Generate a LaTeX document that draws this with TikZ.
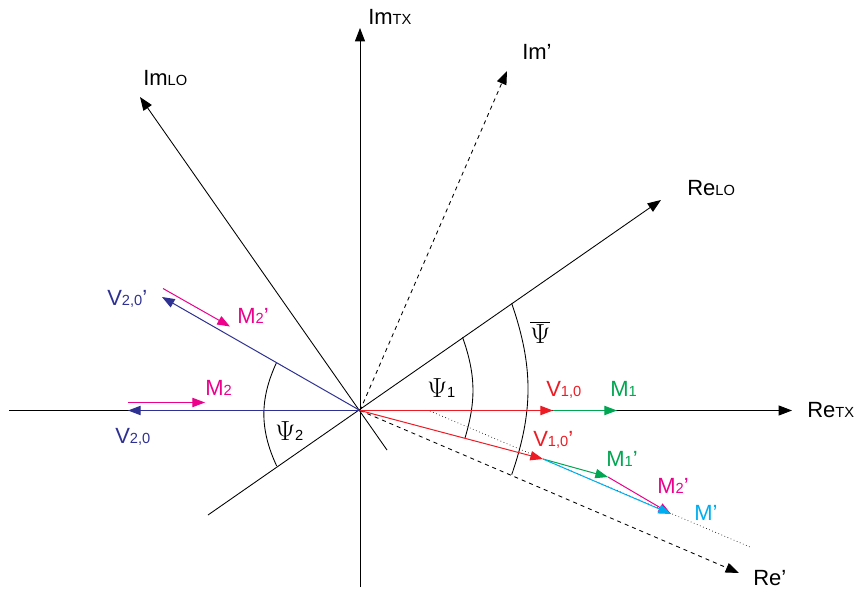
\documentclass[tikz,border=0pt]{standalone}
\usepackage{fontspec}
\setmainfont{Liberation Sans}
\usetikzlibrary{arrows.meta}
\definecolor{vred}{HTML}{ED1C24}
\definecolor{vgreen}{HTML}{00A651}
\definecolor{vmag}{HTML}{EC008C}
\definecolor{vcyan}{HTML}{00AEEF}
\definecolor{vnavy}{HTML}{2E3192}
\newcommand{\lowtxt}[2]{#1{\fontsize{11}{12}\selectfont #2}}
\tikzset{
  axis/.style={-{Triangle[length=10pt,width=7.5pt]}, line width=0.65pt},
  guide/.style={axis, dashed},
  vec/.style={-{Triangle[length=9.5pt,width=7pt]}, line width=0.75pt},
  angarc/.style={line width=0.65pt},
  lbl/.style={anchor=base west, inner sep=0pt, font=\fontsize{16.5}{18}\selectfont},
  anglbl/.style={anchor=base west, inner sep=0pt, font=\fontsize{20}{22}\selectfont}
}
\begin{document}
\begin{tikzpicture}[x=0.75pt, y=-0.75pt]
    \useasboundingbox (0,0) rectangle (858,589);
    \coordinate (O) at (360,410.5);

    % axes
    \coordinate (retxL) at (9,410.5);
    \coordinate (retx) at (792,410.5);
    \coordinate (imtxB) at (360,587);
    \coordinate (imtx) at (360,28);
    \coordinate (reloL) at (208,515);
    \coordinate (relo) at (661,200);
    \coordinate (imloB) at (387,450);
    \coordinate (imlo) at (140,97);
    \coordinate (imp) at (507,71);
    \coordinate (rep) at (739,573);
    \coordinate (dotA) at (430,411);
    \coordinate (dotB) at (750,547);

    \draw[axis] (retxL) -- (retx);
    \draw[axis] (imtxB) -- (imtx);
    \draw[axis] (reloL) -- (relo);
    \draw[axis] (imloB) -- (imlo);
    \draw[guide] (O) -- (imp);
    \draw[guide] (O) -- (rep);
    \draw[dotted, line width=0.5pt] (dotA) -- (dotB);

    \node[lbl] (retxlab) at (807,417) {\lowtxt{Re}{TX}};
    \node[lbl] (imtxlab) at (368,24) {\lowtxt{Im}{TX}};
    \node[lbl] (relolab) at (687,195) {\lowtxt{Re}{LO}};
    \node[lbl] (imlolab) at (143,85) {\lowtxt{Im}{LO}};
    \node[lbl] (implab) at (522,60) {Im’};
    \node[lbl] (replab) at (753,585) {Re’};

    % angles
    \coordinate (a1) at (462.6,337.3);
    \coordinate (a1b) at (465,438);
    \coordinate (a2) at (276.7,362.2);
    \coordinate (a2b) at (276.7,466);
    \coordinate (am) at (511.7,303.3);
    \coordinate (amb) at (511.7,474.7);
    \draw[angarc] (a1) to[bend left=18] (a1b);
    \draw[angarc] (a2) to[bend right=25] (a2b);
    \draw[angarc] (am) to[bend left=19] (amb);
    \node[anglbl] (psi1) at (427,397) {$\Psi$\lowtxt{}{1}};
    \node[anglbl] (psi2) at (275,440) {$\Psi$\lowtxt{}{2}};
    \node[anglbl] (psim) at (530,343) {$\overline{\Psi}$};

    % vectors, first carrier
    \coordinate (v10) at (553,410.5);
    \coordinate (m1) at (617,410.5);
    \coordinate (v10p) at (543,459);
    \coordinate (m1p) at (608,477);
    \coordinate (m2p) at (671,514);
    \draw[vec, vred] (O) -- (v10);
    \draw[vec, vgreen] (v10) -- (m1);
    \draw[vec, vred] (O) -- (v10p);
    \draw[vec, vgreen] (v10p) -- (m1p);
    \draw[vec, vmag] (m1p) -- (m2p);
    \draw[vec, vcyan] (v10p) -- (m2p);

    \node[lbl, text=vred] (v10lab) at (546,396) {\lowtxt{V}{1,0}};
    \node[lbl, text=vgreen] (m1lab) at (610,396) {\lowtxt{M}{1}};
    \node[lbl, text=vred] (v10plab) at (533,446) {\lowtxt{V}{1,0}’};
    \node[lbl, text=vgreen] (m1plab) at (606,466) {\lowtxt{M}{1}’};
    \node[lbl, text=vmag] (m2plab) at (657,493) {\lowtxt{M}{2}’};
    \node[lbl, text=vcyan] (mplab) at (694,520) {M’};

    % vectors, second carrier
    \coordinate (v20) at (128,410.5);
    \coordinate (m2s) at (128,402.5);
    \coordinate (m2) at (205,402.5);
    \coordinate (v20p) at (162,297);
    \coordinate (m2ps) at (163,288.5);
    \coordinate (m2pe) at (230,326.5);
    \draw[vec, vnavy] (O) -- (v20);
    \draw[vec, vmag] (m2s) -- (m2);
    \draw[vec, vnavy] (O) -- (v20p);
    \draw[vec, vmag] (m2ps) -- (m2pe);

    \node[lbl, text=vnavy] (v20lab) at (115,443) {\lowtxt{V}{2,0}};
    \node[lbl, text=vmag] (m2lab) at (205,395) {\lowtxt{M}{2}};
    \node[lbl, text=vnavy] (v20plab) at (107,305) {\lowtxt{V}{2,0}’};
    \node[lbl, text=vmag] (m2pllab) at (237,323) {\lowtxt{M}{2}’};
\end{tikzpicture}
\end{document}
